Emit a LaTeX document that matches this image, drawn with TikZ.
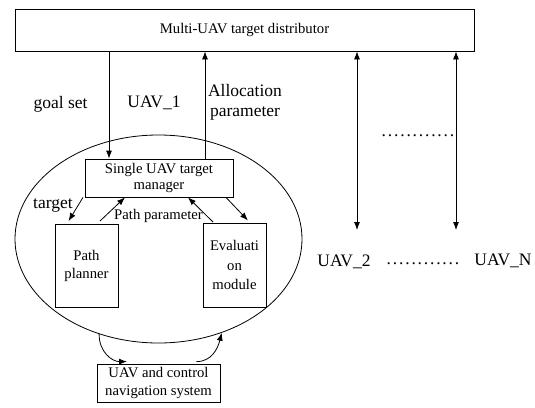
\documentclass[tikz,border=0pt]{standalone}
\usepackage{fontspec}
\setmainfont{Liberation Serif}
\usetikzlibrary{arrows.meta,shapes.geometric}
\begin{document}
\begin{tikzpicture}[x=1pt,y=-1pt,
  box/.style={draw,line width=0.8pt,inner sep=0pt,align=center,font=\fontsize{14.7}{18}\selectfont},
  lbl/.style={font=\fontsize{17.5}{20}\selectfont,align=center,inner sep=0pt},
  dots/.style={font=\fontsize{17.5}{20}\selectfont\addfontfeature{LetterSpace=10.4},inner sep=0pt},
  arr/.style={line width=0.8pt,-{Latex[length=8pt,width=6pt]}},
  darr/.style={line width=0.8pt,{Latex[length=8pt,width=6pt]}-{Latex[length=8pt,width=6pt]}}]
\useasboundingbox (0,0) rectangle (535,407);
% boxes
\node[box,minimum width=459pt,minimum height=42pt] (dist) at (244.5,30) {Multi-UAV target distributor};
\node[draw,ellipse,line width=0.8pt,inner sep=0pt,minimum width=287pt,minimum height=208pt] (ell) at (158.5,239) {};
\node[box,minimum width=148pt,minimum height=38pt,font=\fontsize{14.7}{16.5}\selectfont] (mgr) at (159,178) {Single UAV target\\manager};
\node[box,minimum width=63pt,minimum height=83pt] (pp) at (86.5,265.5) {Path\\planner};
\node[box,minimum width=63pt,minimum height=84pt,font=\fontsize{14.7}{19.5}\selectfont] (ev) at (234.5,265) {Evaluati\\on\\module};
\node[box,minimum width=123pt,minimum height=38pt] (nav) at (158.5,383) {UAV and control\\navigation system};
% labels
\node[lbl] (lgoal) at (60.5,104) {goal set};
\node[lbl] (luav1) at (154,103) {UAV\_1};
\node[lbl] (lalloc) at (245,102) {Allocation\\parameter};
\node[dots] (dtop) at (418,136) {............};
\node[lbl] (luav2) at (344,262) {UAV\_2};
\node[dots] (dmid) at (423,264) {............};
\node[lbl] (luavn) at (503,261) {UAV\_N};
\node[lbl] (ltarget) at (53,205) {target};
\node[lbl,font=\fontsize{14.7}{17}\selectfont] (lpath) at (158.5,216) {Path parameter};
% connectors to distributor
\draw[arr] (109,0 |- dist.south) -- (109,0 |- mgr.north);
\draw[arr] (205,0 |- mgr.north) -- (205,0 |- dist.south);
\coordinate (e2) at (357,230);
\coordinate (eN) at (456,230);
\draw[darr] (357,0 |- dist.south) -- (e2);
\draw[darr] (456,0 |- dist.south) -- (eN);
% internal arrows
\draw[arr,shorten >=3pt] (83,0 |- mgr.south) -- (67,0 |- pp.north);
\draw[arr] (100,221) -- (125,0 |- mgr.south);
\draw[arr] (213,222) -- (188,0 |- mgr.south);
\draw[arr,shorten >=3pt] (226,0 |- mgr.south) -- (250,0 |- ev.north);
% curved arrows
\draw[arr] (ell.238.5) .. controls +(0,18) and +(-15,0) .. ([xshift=-31.5pt,yshift=2pt]nav.north);
\draw[arr] ([xshift=38pt,yshift=2pt]nav.north) .. controls +(15,0) and +(-4,16) .. (ell.304.5);
\end{tikzpicture}
\end{document}
